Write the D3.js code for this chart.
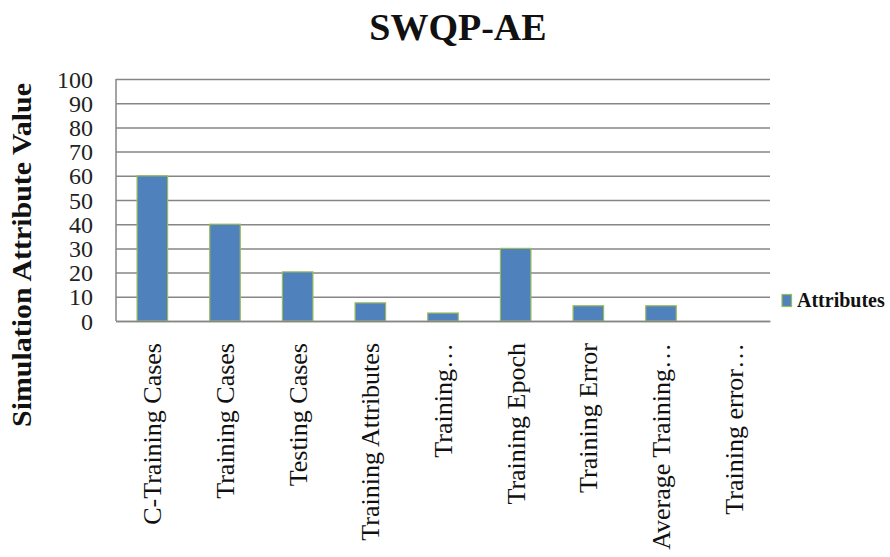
<!DOCTYPE html>
<html><head><meta charset="utf-8">
<script src="https://cdn.jsdelivr.net/npm/d3@7"></script>
<style>body{margin:0;background:#fff}svg{display:block}</style>
</head><body>
<svg id="c" width="890" height="557"></svg>
<script>
const categories = ["C-Training Cases","Training Cases","Testing Cases","Training Attributes","Training…","Training Epoch","Training Error","Average Training…","Training error…"];
const values = [60, 40, 20.3, 7.5, 3.3, 30, 6.3, 6.3, 0];
const yTicks = [0,10,20,30,40,50,60,70,80,90,100];
const seriesName = "Attributes";
const title = "SWQP-AE";
const yTitle = "Simulation Attribute Value";

const svg = d3.select("#c");
const m = {l:116, r:770, t:79, b:321};
const x = d3.scaleBand().domain(categories).range([m.l, m.r]).paddingInner(0.58).paddingOuter(0.29);
const y = d3.scaleLinear().domain([0,100]).range([m.b, m.t]);
const serif = "Liberation Serif, Times New Roman, serif";

// gridlines
const yAxis = d3.axisLeft(y).tickValues(yTicks).tickSize(-(m.r-m.l)).tickFormat(d3.format("d"));
const ga = svg.append("g").attr("transform",`translate(${m.l},0)`).call(yAxis).attr("font-family",serif);
ga.select(".domain").remove();
ga.selectAll(".tick line").attr("stroke","#868686").attr("stroke-width",1.5);
ga.selectAll(".tick text").attr("x",-23).attr("font-family",serif).attr("font-size",24).attr("fill","#222").attr("dy","0.34em");

// left axis line
svg.append("line").attr("x1",m.l).attr("x2",m.l).attr("y1",m.t).attr("y2",m.b).attr("stroke","#868686").attr("stroke-width",1.5);

// bars
svg.append("g").selectAll("rect").data(values).join("rect")
  .attr("x",(d,i)=>x(categories[i]))
  .attr("y",d=>y(d))
  .attr("width",x.bandwidth())
  .attr("height",d=>y(0)-y(d))
  .attr("fill","#4F81BD")
  .attr("stroke",d=>d>0?"#9BBB59":"none").attr("stroke-width",1.2);

// x labels
const xa = svg.append("g").attr("transform",`translate(0,${m.b})`).call(d3.axisBottom(x).tickSize(0).tickPadding(0)).attr("font-family",serif);
xa.select(".domain").attr("stroke","#868686").attr("stroke-width",1.5);
xa.selectAll(".tick text")
  .attr("font-family",serif).attr("font-size",26).attr("fill","#111")
  .attr("text-anchor","end")
  .attr("transform","rotate(-90)")
  .attr("x",-22).attr("y",9).attr("dy",0);

// title
svg.append("text").attr("x",458).attr("y",40).attr("text-anchor","middle")
  .attr("font-family",serif).attr("font-weight","bold").attr("font-size",38).attr("fill","#111").text(title);

// y title
svg.append("text").attr("transform","translate(31,255) rotate(-90)").attr("text-anchor","middle")
  .attr("font-family",serif).attr("font-weight","bold").attr("font-size",27).attr("fill","#111")
  .attr("textLength",344).attr("lengthAdjust","spacingAndGlyphs").text(yTitle);

// legend
svg.append("rect").attr("x",782).attr("y",294.5).attr("width",9.5).attr("height",12)
  .attr("fill","#4F81BD").attr("stroke","#9BBB59").attr("stroke-width",1.2);
svg.append("text").attr("x",797).attr("y",306.5).attr("font-family",serif).attr("font-weight","bold")
  .attr("font-size",20).attr("fill","#111").text(seriesName);
</script>
</body></html>
